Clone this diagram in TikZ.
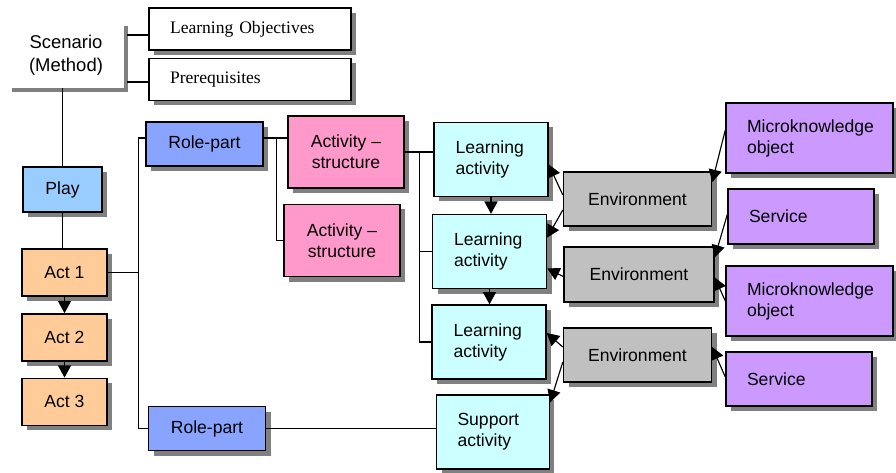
\documentclass[tikz,border=0pt]{standalone}
\usepackage{fontspec}
\setmainfont{Liberation Serif}
\setsansfont{Liberation Sans}
\usetikzlibrary{shadows,arrows.meta,positioning}

\definecolor{playblue}{HTML}{99CCFF}
\definecolor{actorange}{HTML}{FFCC99}
\definecolor{roleblue}{HTML}{88A4FF}
\definecolor{structpink}{HTML}{FF99CC}
\definecolor{learncyan}{HTML}{CCFFFF}
\definecolor{envgray}{HTML}{C0C0C0}
\definecolor{objpurple}{HTML}{CC99FF}

\begin{document}
\begin{tikzpicture}[
    x=0.02cm, y=-0.02cm,
    every node/.style={font=\sffamily\fontsize{10}{12}\selectfont},
    boxsize/.style 2 args={minimum width=#1*0.02cm, minimum height=#2*0.02cm},
    box/.style={rectangle, draw=black, line width=0.8pt, inner sep=0pt, align=center,
        drop shadow={shadow xshift=0.1cm, shadow yshift=-0.1cm, fill=black!50, opacity=1}},
    lbox/.style={box, align=left, inner xsep=0.42cm, text width=#1},
    scen/.style={rectangle, fill=white, inner sep=0pt, align=center,
        font=\sffamily\fontsize{10.5}{13}\selectfont,
        drop shadow={shadow xshift=0.08cm, shadow yshift=-0.08cm, fill=black!50, opacity=1}},
    doc/.style={lbox=3.2cm, fill=white, boxsize={202}{42}, font=\rmfamily\fontsize{10}{12}\selectfont},
    playbox/.style={box, fill=playblue, boxsize={79}{45}},
    actbox/.style={box, fill=actorange, boxsize={85}{47}},
    rolebox/.style={box, fill=roleblue, boxsize={117}{44}},
    structbox/.style={box, fill=structpink, boxsize={116}{72}},
    learnbox/.style={lbox=1.42cm, fill=learncyan, boxsize={114}{74}},
    envbox/.style={box, fill=envgray, boxsize={148}{54}},
    objbox/.style={lbox=2.5cm, fill=objpurple, boxsize={167}{70}},
    link/.style={line width=0.65pt},
    arrow/.style={line width=0.65pt, -{Triangle[length=7pt,width=7.5pt]}}
]
\useasboundingbox (0,0) rectangle (896,473);

% SCENARIO
\node[scen, boxsize={116}{66}] (scen) at (66,55) {Scenario\\(Method)};
\node[doc] (lo) at (250,29) {Learning Objectives};
\node[doc] (pre) at (250,79.5) {Prerequisites};

% PLAY Y ACTS
\node[playbox] (play) at (62.5,189.5) {Play};
\node[actbox] (act1) at (64.5,272.5) {Act 1};
\node[actbox, below=0.33cm of act1] (act2) {Act 2};
\node[actbox, below=0.32cm of act2] (act3) {Act 3};

% ROLE-PARTS Y ESTRUCTURAS
\node[rolebox] (rp1) at (204.5,144) {Role-part};
\node[rolebox] (rp2) at (207,428.5) {Role-part};
\node[structbox] (as1) at (346,152) {Activity --\\structure};
\node[structbox] (as2) at (342,240.5) {Activity --\\structure};

% ACTIVIDADES
\node[learnbox] (la1) at (491,159.5) {Learning\\activity};
\node[learnbox] (la2) at (489.5,251.5) {Learning\\activity};
\node[learnbox] (la3) at (489,342) {Learning\\activity};
\node[learnbox, boxsize={112}{74}] (sup) at (493,432) {Support\\activity};

% ENTORNOS
\node[envbox] (env1) at (637.5,199) {Environment};
\node[envbox, boxsize={150}{55}] (env2) at (639,274.5) {Environment};
\node[envbox] (env3) at (637.5,355) {Environment};

% OBJETOS Y SERVICIOS
\node[objbox] (mk1) at (809.5,138) {Microknowledge\\object};
\node[objbox, text width=2.08cm, boxsize={146}{55}] (sv1) at (801,216.5) {Service};
\node[objbox] (mk2) at (809.5,301) {Microknowledge\\object};
\node[objbox, text width=2.08cm, boxsize={146}{54}] (sv2) at (799,379) {Service};

% CONEXIONES
\coordinate (sedge) at ([xshift=0.06cm]scen.east);
\coordinate (loin) at ([yshift=-0.12cm]lo.west);
\coordinate (prein) at ([yshift=-0.05cm]pre.west);
\draw[link] (loin) -- (loin -| sedge);
\draw[link] (prein) -- (prein -| sedge);
\draw[link] (play.north) -- (play.north |- scen.south);
\draw[link] (play.south) -- (play.south |- act1.north);
\draw[arrow] (act1) -- (act2);
\draw[arrow] (act2) -- (act3);

\coordinate (rbus) at ([xshift=0.62cm]act1.east);
\coordinate (rpin) at ([yshift=0.12cm]rp1.west);
\coordinate (rpout) at ([yshift=0.12cm]rp1.east);
\draw[link] (act1.east) -- (rbus);
\draw[link] (rpin) -| (rbus) |- (rp2.west);

\draw[link] (rpout) -- (rpout -| as1.west);
\coordinate (sbus) at ([xshift=0.26cm]rpout);
\draw[link] (sbus) |- (as2.west);

\draw[link] (as1.east) -- (as1.east -| la1.west);
\coordinate (lbus) at ([xshift=0.3cm]as1.east);
\draw[link] (lbus) |- (la2.west);
\draw[link] (lbus) |- (la3.west);
\draw[link] (rp2.east) -- (rp2.east -| sup.west);

\draw[arrow] (la1.south) -- (la1.south |- la2.north);
\draw[arrow] (la2.south) -- (la2.south |- la3.north);

% ENTORNO -> ACTIVIDAD
\draw[arrow] ([shift={(0,-4)}]env1.west) -- ([shift={(0,5)}]la1.east);
\draw[arrow] ([shift={(0,11)}]env1.west) -- ([shift={(0,-14)}]la2.east);
\draw[arrow] ([shift={(0,2)}]env2.west) -- ([shift={(0,17)}]la2.east);
\draw[arrow] ([shift={(0,-8)}]env3.west) -- ([shift={(0,-9)}]la3.east);
\draw[arrow] ([shift={(0,7)}]env3.west) -- ([shift={(0,8)}]sup.north east);

% OBJETO -> ENTORNO
\draw[arrow] ([shift={(0,-8)}]mk1.west) -- ([shift={(0,-17)}]env1.east);
\draw[arrow] ([shift={(0,-2)}]sv1.west) -- ([shift={(0,-17)}]env2.east);
\draw[arrow] (mk2.west) -- ([shift={(0,3)}]env2.east);
\draw[arrow] ([shift={(0,-2)}]sv2.west) -- ([shift={(0,-8)}]env3.east);

\end{tikzpicture}
\end{document}
